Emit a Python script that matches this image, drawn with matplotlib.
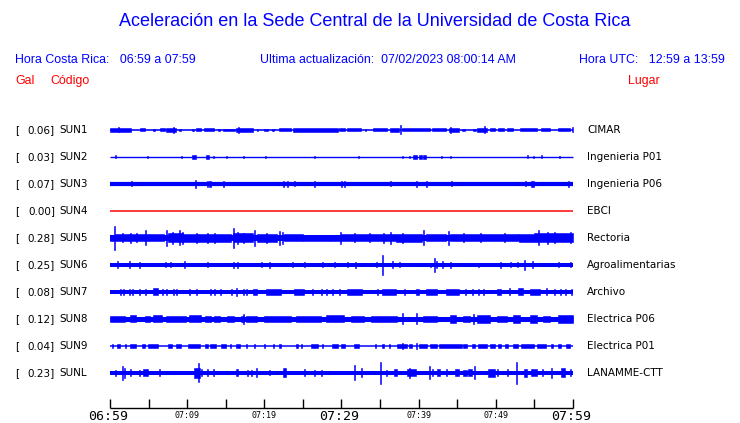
import matplotlib.pyplot as plt

W, H = 740, 423

# estaciones
codes = ['SUN1', 'SUN2', 'SUN3', 'SUN4', 'SUN5', 'SUN6', 'SUN7', 'SUN8', 'SUN9', 'SUNL']
gal = [0.06, 0.03, 0.07, 0.00, 0.28, 0.25, 0.08, 0.12, 0.04, 0.23]
places = ['CIMAR', 'Ingenieria P01', 'Ingenieria P06', 'EBCI', 'Rectoria',
          'Agroalimentarias', 'Archivo', 'Electrica P06', 'Electrica P01', 'LANAMME-CTT']
# grosor de la traza base (px)
base_px = [1.6, 1.4, 4.2, 1.5, 6.0, 4.0, 4.0, 5.0, 1.5, 4.0]
trace_colors = ['blue', 'blue', 'blue', 'red', 'blue', 'blue', 'blue', 'blue', 'blue', 'blue']

# rafagas: (min inicio, min fin, media amplitud px)
bursts_sun1 = [(0, 2.7, 1.7), (1.1, 1.1, 2.5), (3.9, 4.6, 1.5), (5.6, 5.8, 1.3), (6.5, 7.1, 1.5),
               (7.3, 8.6, 1.8), (8.2, 8.2, 3), (9.0, 9.2, 1.3), (10.6, 10.9, 1.3), (11.2, 11.8, 1.5),
               (12.2, 13.5, 1.5), (14.0, 14.2, 1.3), (14.7, 16.2, 1.3), (16.3, 18.5, 1.8),
               (16.6, 16.6, 2.8), (19.0, 19.2, 1.3), (20.0, 20.5, 1.3), (21.0, 21.2, 1.3),
               (21.9, 23.4, 1.5), (23.7, 29.5, 1.7), (29.7, 30.5, 1.5), (30.7, 32.5, 1.5),
               (33.0, 33.2, 1.3), (34.1, 35.9, 1.5), (36.3, 37.5, 1.8), (37.6, 37.6, 4.5),
               (37.8, 41.5, 1.5), (41.7, 43.6, 1.5), (43.9, 45.2, 2.2), (44.0, 44.0, 3),
               (45.6, 46.0, 1.3), (47.1, 47.4, 1.3), (47.6, 48.8, 1.7), (48.5, 48.5, 3.5),
               (49.2, 49.9, 1.5), (50.3, 51.0, 1.5), (51.4, 52.2, 1.5), (53.1, 55.3, 1.5),
               (55.9, 57.0, 1.5), (58.1, 59.6, 1.5), (59.9, 59.9, 2.5)]
bursts_sun2 = [(0.6, 0.6, 1.5), (4.8, 4.8, 1.3), (9.2, 9.2, 1.3), (10.6, 11.1, 1.8), (12.5, 12.8, 1.8),
               (13.3, 13.3, 1.0), (15.0, 15.0, 1.0), (17.2, 17.2, 1.0), (20.1, 20.1, 1.0),
               (26.4, 26.4, 1.2), (32.2, 32.2, 1.2), (37.8, 37.8, 1.3), (38.7, 38.7, 1.0),
               (39.3, 39.8, 1.8), (40.1, 40.4, 1.8), (40.6, 41.0, 1.8), (42.9, 42.9, 1.0),
               (44.1, 44.1, 1.2), (54.1, 54.1, 1.5), (54.8, 54.8, 1.2), (55.8, 55.8, 1.5),
               (58.2, 58.2, 1.3)]
bursts_sun3 = [(2.7, 2.7, 2.5), (11.0, 11.0, 4.0), (12.6, 12.6, 3.0), (12.8, 13.1, 3.2),
               (14.7, 14.7, 2.7), (22.4, 22.4, 3.0), (22.9, 22.9, 3.0), (23.8, 23.8, 2.5),
               (26.4, 26.4, 3.0), (29.9, 29.9, 3.0), (30.3, 30.3, 3.0), (36.3, 36.3, 2.5),
               (39.6, 39.6, 3.0), (40.9, 40.9, 3.2), (44.2, 44.2, 2.5), (53.8, 53.8, 2.5),
               (54.5, 54.9, 3.2), (59.3, 59.3, 3.0)]
bursts_sun4 = []
bursts_sun5 = [(0, 0.5, 3), (0.5, 0.6, 12), (0.7, 2.5, 3.5), (1.5, 1.5, 4.5), (2.6, 2.6, 5),
               (3.4, 3.4, 4.5), (2.5, 5, 3.5), (4.6, 4.7, 7.5), (5, 7, 3.5), (7.3, 7.3, 8),
               (7.5, 9.5, 4.5), (8.0, 8.0, 6), (8.9, 8.9, 7.5), (9.3, 9.3, 6), (9.5, 11.5, 4),
               (11.2, 11.2, 5), (11.5, 15.7, 4), (12.6, 12.6, 5), (13.5, 13.5, 5), (15.9, 15.9, 10),
               (16, 18.5, 4.5), (16.5, 16.5, 6), (17.2, 17.2, 5), (18.7, 18.7, 8), (19, 21.7, 4),
               (20.2, 20.2, 5), (21.9, 21.9, 7), (22.3, 22.3, 6), (22.5, 25, 3.5), (25, 28.5, 3),
               (28.5, 30, 3.2), (29.8, 29.8, 6), (30, 37, 3.5), (31.6, 31.6, 4.5), (33.5, 33.5, 4.5),
               (35.4, 35.4, 5), (36.3, 36.3, 6), (37, 40.4, 4), (37.9, 37.9, 5), (40.6, 40.6, 7.5),
               (41, 43.6, 3.5), (43.8, 43.8, 7), (44, 53, 3.5), (45.7, 45.7, 4.5), (48, 48, 4.5),
               (51, 51, 4.5), (53, 55, 4), (55.5, 55.5, 7.5), (55, 60, 4.5), (56.6, 56.6, 6),
               (57.5, 57.5, 5.5), (59.6, 59.6, 5.5)]
bursts_sun6 = [(0.9, 0.9, 3.5), (2.5, 2.5, 3.5), (3.8, 3.8, 3), (7.1, 7.1, 2.5), (7.8, 7.8, 2.5),
               (9.6, 9.6, 3.5), (12.6, 12.6, 2.5), (16.0, 16.0, 3.3), (16.4, 16.4, 3), (19.6, 19.6, 2.5),
               (20.6, 20.6, 3), (23.6, 23.6, 2.5), (25.1, 25.1, 2.5), (27.5, 27.5, 2.5), (29.0, 29.0, 2.5),
               (30.7, 30.7, 2.5), (31.8, 31.8, 3), (34.5, 34.5, 2.5), (35.3, 35.3, 10), (36.5, 36.5, 3.5),
               (37.5, 37.5, 2.5), (41.5, 41.5, 2.3), (42.0, 42.0, 7), (42.3, 42.3, 3.5), (43.0, 43.0, 3.5),
               (44.0, 44.0, 3), (47.7, 47.7, 2.3), (50.6, 50.6, 3), (51.9, 51.9, 2.5),
               (52.8, 52.8, 2.5), (53.6, 53.6, 5), (54.7, 54.7, 3.5), (58.0, 58.0, 2.5), (59.6, 59.6, 2.5)]
bursts_sun7 = [(1.3, 1.3, 3), (1.7, 1.7, 3), (2.4, 2.4, 3), (2.8, 2.8, 3), (3.7, 3.7, 3),
               (4.5, 4.5, 3), (5.6, 6.2, 3.5), (6.7, 6.7, 3), (7.3, 7.3, 3), (8.2, 8.2, 3),
               (8.6, 8.6, 3), (10.3, 10.3, 3), (11.2, 11.2, 3), (12.9, 12.9, 3),
               (13.5, 13.5, 3), (14.2, 14.2, 3), (15.7, 15.7, 3), (16.3, 16.3, 4),
               (17.2, 17.2, 3), (17.6, 17.6, 3), (18.5, 19.1, 2.8), (20.2, 22.1, 2.6),
               (23.9, 25.2, 2.6), (26.2, 26.2, 3), (27.3, 27.3, 3), (28.0, 28.0, 3),
               (28.8, 28.8, 3), (29.7, 29.7, 3), (30.7, 32.7, 2.8), (34.6, 34.6, 3),
               (35.3, 37.0, 2.6), (38.1, 38.1, 3), (39.6, 40.0, 3.2), (40.9, 42.4, 2.8),
               (43.6, 45.2, 2.6), (46.0, 46.0, 3), (46.9, 46.9, 3), (47.7, 47.7, 3),
               (48.4, 48.4, 3), (50.1, 50.7, 2.8), (51.7, 51.7, 3.5), (52.9, 53.5, 3.5),
               (54.4, 55.7, 2.6), (56.5, 56.5, 3.5), (57.6, 57.6, 3), (58.3, 58.3, 3),
               (58.9, 58.9, 3), (59.8, 59.8, 3)]
bursts_sun8 = [(0, 1.9, 3.2), (2.6, 3.4, 3.5), (4.5, 5.2, 3.2), (5.6, 6.7, 3.5), (7.3, 9.9, 3.2),
               (10.3, 11.8, 3.5), (12.3, 13.1, 3.2), (13.5, 14.2, 3.0), (15.1, 16.1, 3.0),
               (17.0, 17.4, 3.0), (17.2, 17.2, 5), (17.6, 19.1, 3.2), (20.0, 23.4, 3.0),
               (24.1, 27.3, 3.2), (28.0, 30.3, 3.5), (31.2, 32.9, 3.0), (33.8, 37.2, 3.0),
               (37.8, 37.8, 5.5), (39.6, 39.6, 5.5), (40.6, 42.4, 3.2), (44.1, 44.9, 3.7),
               (45.8, 46.7, 3.0), (47.0, 47.0, 5), (47.5, 49.2, 4), (50.1, 51.4, 3.2),
               (52.2, 53.1, 4), (54.4, 55.3, 3.7), (56.1, 57.0, 3.0), (58.0, 60, 3.7)]
bursts_sun9 = [(0.2, 0.4, 1.7), (0.9, 1.3, 1.7), (2.0, 2.0, 1.7), (2.6, 3.4, 1.7), (4.1, 4.5, 1.7),
               (4.9, 6.2, 1.7), (7.5, 8.0, 1.7), (8.6, 9.2, 1.7), (10.1, 11.6, 1.7), (12.3, 12.7, 1.7),
               (13.0, 13.8, 1.7), (14.4, 15.0, 1.7), (15.6, 15.6, 1.7), (16.3, 16.8, 1.7),
               (17.6, 17.6, 1.7), (18.7, 18.7, 1.7), (20.0, 20.0, 1.7), (21.1, 21.1, 1.7),
               (21.9, 22.1, 1.7), (24.1, 24.3, 1.7), (24.7, 24.7, 1.7), (26.0, 26.9, 1.7),
               (27.5, 27.5, 1.7), (28.8, 29.5, 1.7), (30.0, 30.4, 1.7), (31.6, 32.3, 1.7),
               (34.4, 34.4, 1.7), (35.3, 35.5, 1.7), (36.1, 36.3, 1.7), (37.2, 38.5, 2.2),
               (37.8, 37.8, 3), (38.7, 39.1, 1.7), (39.6, 39.6, 3), (40.0, 41.1, 1.7),
               (41.5, 42.4, 1.7), (42.6, 45.6, 2), (45.8, 46.2, 1.7), (46.9, 47.3, 1.7),
               (47.7, 48.8, 1.7), (49.2, 49.9, 1.7), (50.3, 50.7, 1.7), (51.2, 51.6, 1.7),
               (52.2, 52.9, 1.7), (53.3, 55.0, 1.7), (55.3, 56.5, 1.7), (57.2, 57.4, 1.7),
               (58.0, 58.5, 1.7), (59.1, 59.6, 1.7)]
bursts_sunl = [(0.6, 0.6, 3), (1.5, 1.7, 7), (1.85, 1.85, 5), (2.6, 2.6, 3.5), (3.7, 3.7, 3),
               (4.3, 4.9, 3.5), (6.3, 6.3, 3.5), (10.9, 11.6, 5), (11.4, 11.4, 9.5), (11.8, 11.8, 3.5),
               (12.6, 12.6, 3.5), (13.3, 13.3, 3.5), (16.3, 16.6, 3.5), (17.8, 17.8, 3),
               (18.3, 18.3, 3), (18.9, 19.1, 4.5), (20.6, 20.6, 2.5), (22.4, 22.8, 4.5),
               (25.2, 25.2, 3.5), (26.4, 26.4, 3), (27.3, 27.3, 3), (31.6, 31.6, 7.5),
               (32.5, 32.5, 4.5), (35.0, 35.0, 11), (35.8, 35.8, 3), (36.8, 37.2, 3.5),
               (38.5, 39.6, 3.5), (38.7, 38.7, 5), (41.3, 41.3, 6.5), (41.7, 41.7, 3.5),
               (42.4, 42.8, 3.5), (43.6, 43.6, 3.5), (44.7, 45.2, 3.5), (45.8, 46.2, 3),
               (46.4, 46.9, 3.5), (47.2, 47.2, 6.5), (49.0, 49.9, 4), (50.1, 50.1, 3.5),
               (51.4, 51.4, 3.5), (52.6, 52.6, 11), (53.7, 54.0, 4), (54.6, 55.3, 3.5),
               (56.0, 56.0, 3.5), (57.1, 57.1, 5), (58.5, 58.9, 4.5), (59.6, 59.6, 3.5)]
bursts = [bursts_sun1, bursts_sun2, bursts_sun3, bursts_sun4, bursts_sun5,
          bursts_sun6, bursts_sun7, bursts_sun8, bursts_sun9, bursts_sunl]

# eje de tiempo
tick_minutes = list(range(0, 61, 5))
major_labels = {0: '06:59', 30: '07:29', 60: '07:59'}
minor_labels = {10: '07:09', 20: '07:19', 40: '07:39', 50: '07:49'}

# geometria en pixeles
x0_px, x1_px = 110, 573
px_per_min = (x1_px - x0_px) / 60
row0, row_step = 130, 27
blue = (0, 0, 1)
red = (1, 0, 0)

fig = plt.figure(figsize=(W / 100, H / 100), dpi=100)
ax = fig.add_axes([0, 0, 1, 1])
ax.set_xlim(-x0_px / px_per_min, (W - x0_px) / px_per_min)
ax.set_ylim(H, 0)
ax.axis('off')


def ftext(px, py, s, **kw):
    fig.text(px / W, 1 - py / H, s, **kw)


ftext(375, 22, 'Aceleración en la Sede Central de la Universidad de Costa Rica',
      ha='center', va='center', color=blue, fontsize=13, family='Liberation Sans')
ftext(15, 60, 'Hora Costa Rica:   06:59 a 07:59', va='center', color=blue,
      fontsize=8.9, family='Liberation Sans')
ftext(260, 60, 'Ultima actualización:  07/02/2023 08:00:14 AM', va='center', color=blue,
      fontsize=8.9, family='Liberation Sans')
ftext(725, 60, 'Hora UTC:   12:59 a 13:59', ha='right', va='center', color=blue,
      fontsize=8.9, family='Liberation Sans')
ftext(15, 81, 'Gal', va='center', color=red, fontsize=8.9, family='Liberation Sans')
ftext(50, 81, 'Código', va='center', color=red, fontsize=8.9, family='Liberation Sans')
ftext(628, 81, 'Lugar', va='center', color=red, fontsize=8.9, family='Liberation Sans')

for i, code in enumerate(codes):
    y = row0 + i * row_step
    ftext(15, y, '[', va='center', fontsize=7.5, family='DejaVu Sans')
    ftext(55, y, f'{gal[i]:.2f}]', ha='right', va='center', fontsize=7.5, family='DejaVu Sans')
    ftext(59, y, code, va='center', fontsize=7.5, family='DejaVu Sans')
    ftext(587, y, places[i], va='center', fontsize=7.5, family='DejaVu Sans')

    c = trace_colors[i]
    ax.hlines(y, 0, 60, color=c, lw=base_px[i] * 0.72)
    for t0, t1, amp in bursts[i]:
        w = max(t1 - t0, 0.13)
        ax.bar(t0, 2 * amp, width=w, bottom=y - amp, align='edge',
               color=c, edgecolor=c, linewidth=0.4)

# eje inferior
axis_y = 408
ax.hlines(axis_y, 0, 60, color='black', lw=1.0)
ax.vlines(tick_minutes, axis_y - 9, axis_y, color='black', lw=1.0)
for m, lab in major_labels.items():
    ax.text(m - 0.3, 416, lab, ha='center', va='center', fontsize=9.5, family='DejaVu Sans Mono')
for m, lab in minor_labels.items():
    ax.text(m, 415, lab, ha='center', va='center', fontsize=6, family='DejaVu Sans Mono')

fig.savefig('out.png', dpi=100)
